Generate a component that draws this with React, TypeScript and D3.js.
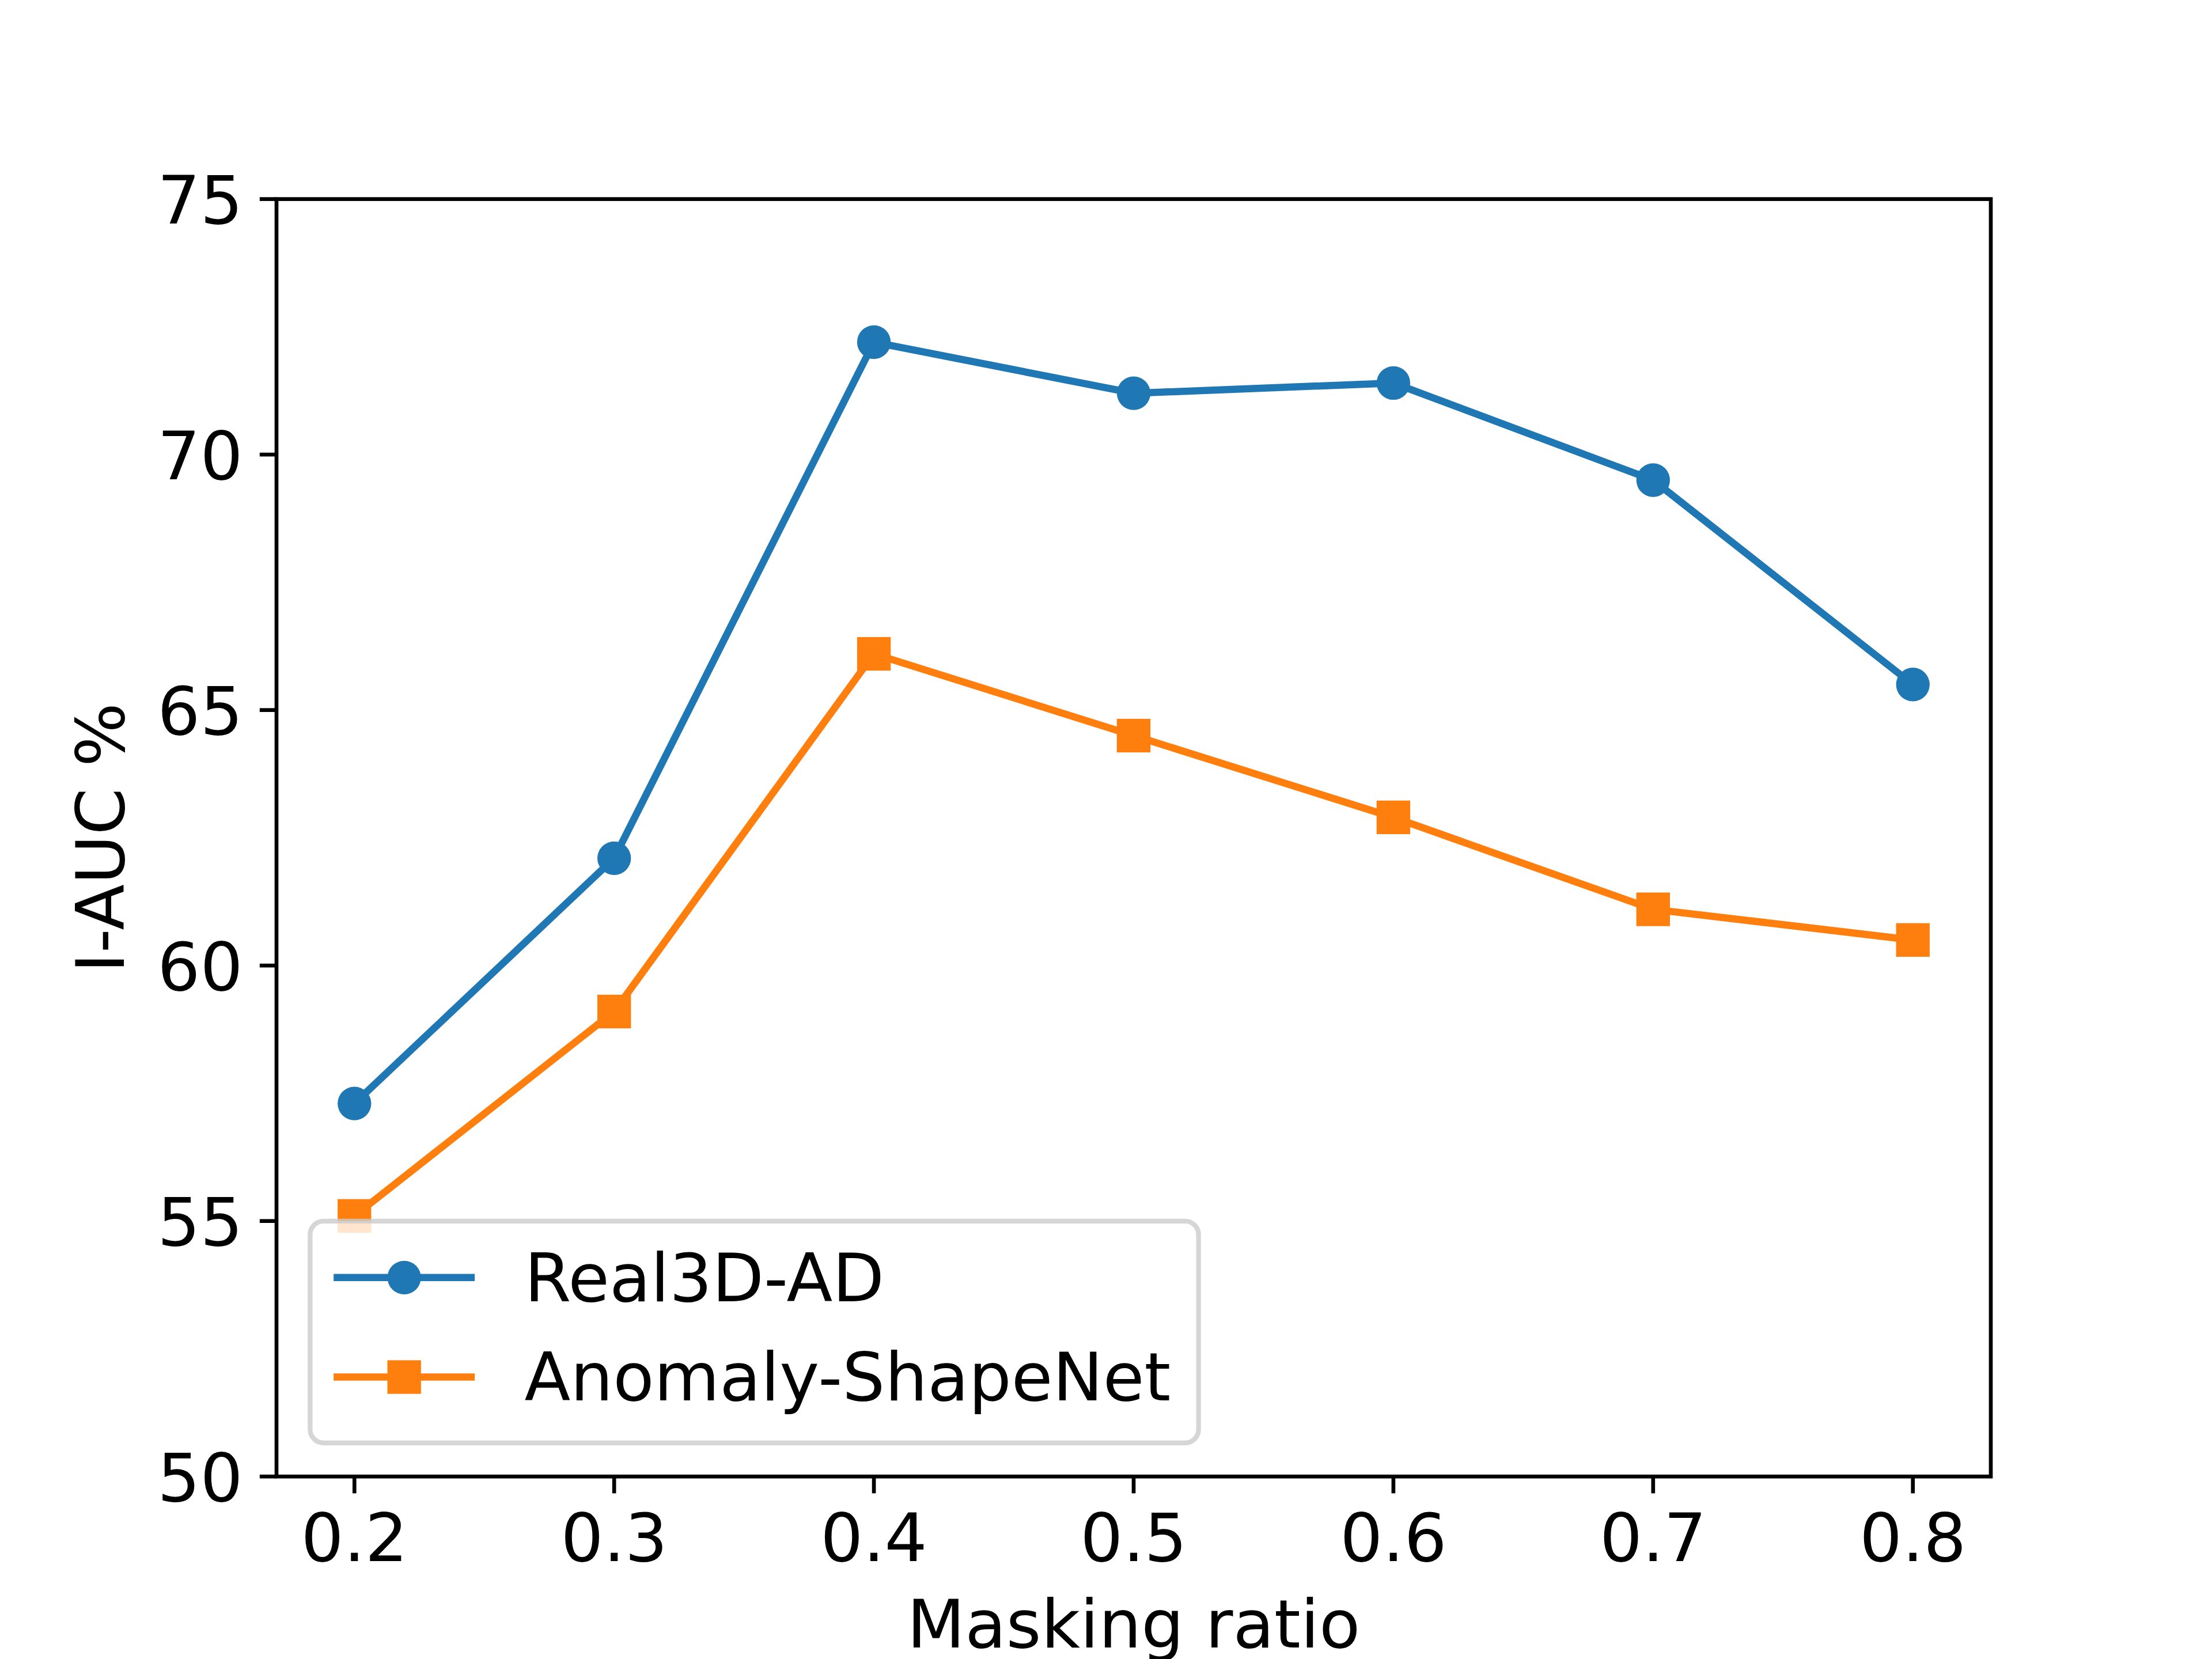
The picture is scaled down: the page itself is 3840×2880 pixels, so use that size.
import React, { useEffect } from "react";
import * as d3 from "d3";

const maskingRatios = [0.2, 0.3, 0.4, 0.5, 0.6, 0.7, 0.8];
const real3dValues = [57.3, 62.1, 72.2, 71.2, 71.4, 69.5, 65.5];
const shapeNetValues = [55.1, 59.1, 66.1, 64.5, 62.9, 61.1, 60.5];
const seriesNames = ["Real3D-AD", "Anomaly-ShapeNet"];
const seriesColors = ["#1f77b4", "#ff7f0e"];
const yTickValues = [50, 55, 60, 65, 70, 75];
const xTickValues = [0.2, 0.3, 0.4, 0.5, 0.6, 0.7, 0.8];
const xLabel = "Masking ratio";
const yLabel = "I-AUC %";

const W = 3840;
const H = 2880;
const PT = 600 / 72;
const FS = 14 * PT;
const FONT = "'DejaVu Sans', sans-serif";

export default function App() {
  useEffect(() => {
    document.body.style.margin = "0";
  }, []);

  const left = 0.125 * W;
  const right = 0.9 * W;
  const top = 0.12 * H;
  const bottom = 0.89 * H;

  const [xmin, xmax] = d3.extent(maskingRatios) as [number, number];
  const pad = (xmax - xmin) * 0.05;
  const x = d3.scaleLinear().domain([xmin - pad, xmax + pad]).range([left, right]);
  const y = d3.scaleLinear().domain([50, 75]).range([bottom, top]);

  const line = d3
    .line<number>()
    .x((_, i) => x(maskingRatios[i]))
    .y((d) => y(d));

  const lw = 1.5 * PT;
  const ms = 7 * PT;
  const axLw = 0.8 * PT;
  const tickLen = 3.5 * PT;
  const tickPad = 3.5 * PT;

  const series = [real3dValues, shapeNetValues];

  // legend layout
  const legLeft = left + 0.5 * FS;
  const legBottom = bottom - 0.5 * FS;
  const legHeight = 3.3 * FS;
  const legTop = legBottom - legHeight;
  const legWidth = 0.8 * FS + 2 * FS + 0.8 * FS + 9.62 * FS;
  const handleX0 = legLeft + 0.35 * FS;
  const handleX1 = handleX0 + 2.1 * FS;
  const textX = handleX1 + 0.74 * FS;
  const rowY = [legTop + 0.84 * FS, legTop + 0.84 * FS + 1.48 * FS];

  const marker = (k: number, cx: number, cy: number, key: string) =>
    k === 0 ? (
      <circle key={key} cx={cx} cy={cy} r={ms / 2} fill={seriesColors[k]} />
    ) : (
      <rect key={key} x={cx - ms / 2} y={cy - ms / 2} width={ms} height={ms} fill={seriesColors[k]} />
    );

  return (
    <svg width={W} height={H} style={{ display: "block", background: "#fff" }} fontFamily={FONT}>
      <rect x={0} y={0} width={W} height={H} fill="#fff" />
      {/* series */}
      {series.map((vals, k) => (
        <g key={seriesNames[k]}>
          <path d={line(vals) || ""} fill="none" stroke={seriesColors[k]} strokeWidth={lw} strokeLinejoin="round" strokeLinecap="square" />
          {vals.map((v, i) => marker(k, x(maskingRatios[i]), y(v), `${k}-${i}`))}
        </g>
      ))}
      {/* spines */}
      <rect x={left} y={top} width={right - left} height={bottom - top} fill="none" stroke="#000" strokeWidth={axLw} strokeLinejoin="miter" />
      {/* x ticks */}
      {xTickValues.map((t) => (
        <g key={`xt${t}`}>
          <line x1={x(t)} x2={x(t)} y1={bottom} y2={bottom + tickLen} stroke="#000" strokeWidth={axLw} />
          <text x={x(t)} y={bottom + tickLen + tickPad + 0.76 * FS} fontSize={FS} textAnchor="middle" fill="#000">
            {d3.format(".1f")(t)}
          </text>
        </g>
      ))}
      {/* y ticks */}
      {yTickValues.map((t) => (
        <g key={`yt${t}`}>
          <line x1={left - tickLen} x2={left} y1={y(t)} y2={y(t)} stroke="#000" strokeWidth={axLw} />
          <text x={left - tickLen - tickPad} y={y(t) + 0.365 * FS} fontSize={FS} textAnchor="end" fill="#000">
            {t}
          </text>
        </g>
      ))}
      {/* axis labels */}
      <text x={(left + right) / 2} y={2860} fontSize={FS} textAnchor="middle" fill="#000">
        {xLabel}
      </text>
      <text transform={`translate(215, ${(top + bottom) / 2}) rotate(-90)`} fontSize={FS} textAnchor="middle" fill="#000">
        {yLabel}
      </text>
      {/* legend */}
      <g>
        <rect
          x={legLeft}
          y={legTop}
          width={legWidth}
          height={legHeight}
          rx={0.2 * FS}
          ry={0.2 * FS}
          fill="#fff"
          fillOpacity={0.8}
          stroke="#cccccc"
          strokeOpacity={0.8}
          strokeWidth={1 * PT}
        />
        {seriesNames.map((name, k) => (
          <g key={`leg${k}`}>
            <line x1={handleX0} x2={handleX1} y1={rowY[k]} y2={rowY[k]} stroke={seriesColors[k]} strokeWidth={lw} />
            {marker(k, (handleX0 + handleX1) / 2, rowY[k], `lm${k}`)}
            <text x={textX} y={rowY[k] + 0.35 * FS} fontSize={FS} fill="#000">
              {name}
            </text>
          </g>
        ))}
      </g>
    </svg>
  );
}
